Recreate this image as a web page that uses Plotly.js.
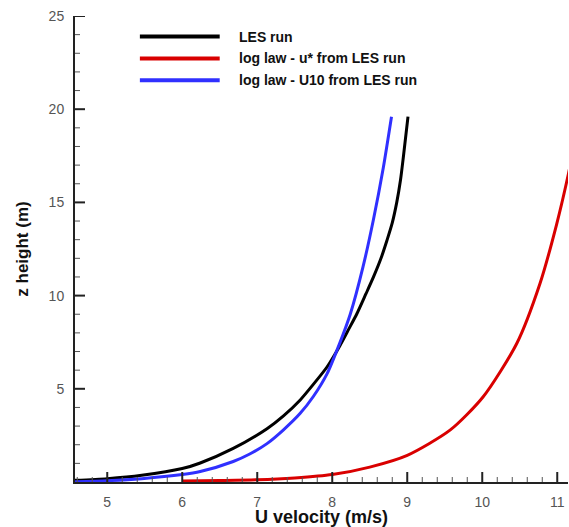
<!DOCTYPE html>
<html>
<head>
<meta charset="utf-8">
<script src="https://cdn.plot.ly/plotly-3.0.1.min.js"></script>
<style>
body{margin:0;}
</style>
</head>
<body>
<div id="chart"></div>
<script>
// Series (U velocity in m/s, z height in m)
const lesU   = [4.57, 5.00, 5.46, 6.00, 6.24, 6.68, 7.13, 7.35, 7.57, 7.75, 7.93, 8.10, 8.22, 8.33, 8.45, 8.55, 8.65, 8.73, 8.80, 8.86, 8.91, 8.95, 9.01];
const lesZ   = [0.09, 0.18, 0.36, 0.72, 1.02, 1.80, 2.86, 3.55, 4.39, 5.25, 6.17, 7.30, 8.20, 9.04, 10.1, 11.0, 12.0, 12.97, 13.9, 15.0, 16.2, 17.5, 19.6];

const ustarU = [6.00, 6.50, 7.00, 7.50, 8.00, 8.50, 9.00, 9.57, 10.01, 10.46, 10.77, 10.99, 11.15, 11.30];
const ustarZ = [0.05, 0.08, 0.12, 0.22, 0.40, 0.80, 1.43, 2.78, 4.56, 7.43, 10.65, 13.8, 16.55, 19.6];

const u10U   = [4.57, 5.00, 5.46, 6.00, 6.24, 6.68, 6.90, 7.13, 7.35, 7.57, 7.75, 7.93, 8.10, 8.24, 8.41, 8.55, 8.68, 8.79];
const u10Z   = [0.02, 0.07, 0.18, 0.40, 0.56, 1.10, 1.50, 2.06, 2.80, 3.67, 4.60, 5.80, 7.45, 9.00, 11.54, 14.1, 16.85, 19.6];

const seriesNames = ["LES run", "log law - u* from LES run", "log law - U10 from LES run"];
const seriesColors = ["#000000", "#d90000", "#3030ff"];

// Tick labels / positions
const xTickVals = [5, 6, 7, 8, 9, 10, 11];
const yTickVals = [5, 10, 15, 20, 25];

const xTitle = "U velocity (m/s)";
const yTitle = "z height (m)";

const font = "Liberation Sans, Arial, Helvetica, sans-serif";
const xMin = 4.57;
const xMax = 4.57 + (569 - 75 - 1) / 75;

const lineStyle = (c) => ({color: c, width: 3, shape: "spline", smoothing: 0.7});
const traces = [
  {x: lesU, y: lesZ, name: seriesNames[0], mode: "lines", line: lineStyle(seriesColors[0])},
  {x: ustarU, y: ustarZ, name: seriesNames[1], mode: "lines", line: lineStyle(seriesColors[1])},
  {x: u10U, y: u10Z, name: seriesNames[2], mode: "lines", line: lineStyle(seriesColors[2])}
];

const shapes = [];
const annotations = [];

// Manual legend (long sample lines like the reference)
const legX0 = 0.1316, legX1 = 0.2935, legTextX = 0.328;
const legY = [0.956, 0.909, 0.862];
for (let i = 0; i < seriesNames.length; i++) {
  shapes.push({type: "line", xref: "paper", yref: "paper", x0: legX0, x1: legX1, y0: legY[i], y1: legY[i],
               line: {color: seriesColors[i], width: 4}});
  annotations.push({xref: "paper", yref: "paper", x: legTextX, y: legY[i], xanchor: "left", yanchor: "middle",
                    showarrow: false, text: "<b>" + seriesNames[i] + "</b>",
                    font: {family: font, size: 14, color: "#111"}});
}

// Inside tick marks (major and minor), anchored on the axes in pixel length
function xTick(v, len, w, c) {
  shapes.push({type: "line", xref: "x", yref: "y", x0: v, x1: v, ysizemode: "pixel", yanchor: 0, y0: 0, y1: len,
               line: {color: c, width: w}, layer: "above"});
}
function yTick(v, len, w, c) {
  shapes.push({type: "line", xref: "x", yref: "y", y0: v, y1: v, xsizemode: "pixel", xanchor: xMin, x0: 0, x1: len,
               line: {color: c, width: w}, layer: "above"});
}
for (let i = 23; i <= 55; i++) {           // x minor step 0.2
  if (i % 5 !== 0) xTick(i / 5, 5, 1, "#555");
}
xTickVals.forEach(v => xTick(v, 10, 2, "#222"));
for (let i = 1; i <= 24; i++) {            // y minor step 1
  if (i % 5 !== 0) yTick(i, 5, 1, "#555");
}
yTickVals.forEach(v => yTick(v, 10, 2, "#222"));

const layout = {
  width: 569, height: 527,
  margin: {l: 75, r: 1, t: 16, b: 45},
  showlegend: false,
  xaxis: {
    range: [xMin, xMax], tickmode: "array", tickvals: xTickVals, ticktext: xTickVals.map(String),
    showgrid: false, zeroline: false, showline: true, linecolor: "#222", linewidth: 2,
    ticks: "", ticklabelstandoff: 6,
    tickfont: {family: font, size: 14, color: "#555"},
    title: {text: "<b>" + xTitle + "</b>", font: {family: font, size: 18, color: "#111"}, standoff: 2}
  },
  yaxis: {
    range: [0, 25], tickmode: "array", tickvals: yTickVals, ticktext: yTickVals.map(String),
    showgrid: false, zeroline: false, showline: true, linecolor: "#222", linewidth: 2,
    ticks: "", ticklabelstandoff: 6,
    tickfont: {family: font, size: 14, color: "#555"},
    title: {text: "<b>" + yTitle + "</b>", font: {family: font, size: 17, color: "#111"}, standoff: 16}
  },
  shapes: shapes,
  annotations: annotations
};

Plotly.newPlot("chart", traces, layout, {displayModeBar: false});
</script>
</body>
</html>
